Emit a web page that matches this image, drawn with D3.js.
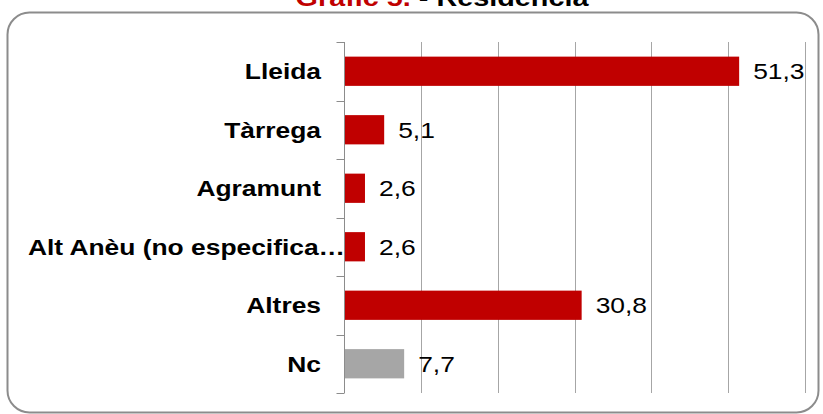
<!DOCTYPE html>
<html lang="ca">
<head>
    <meta charset="UTF-8">
    <title>Gràfic 5. - Residència</title>
    <script src="https://d3js.org/d3.v7.min.js"></script>
    <style>
        body { margin: 0; background: #fff; }
        svg { display: block; font-family: "Liberation Sans", Arial, sans-serif; }
        .grid line { stroke: #a6a6a6; stroke-width: 1; }
        .cat text { font-size: 22px; font-weight: bold; fill: #000; }
        .val { font-size: 22px; fill: #000; }
    </style>
</head>
<body>
<svg></svg>
<script>
    // dades
    const categories = ["Lleida", "Tàrrega", "Agramunt", "Alt Anèu (no especifica…", "Altres", "Nc"];
    const values = [51.3, 5.1, 2.6, 2.6, 30.8, 7.7];
    const barColors = ["#c00000", "#c00000", "#c00000", "#c00000", "#c00000", "#a6a6a6"];
    const gridTicks = [10, 20, 30, 40, 50, 60];

    const width = 823, height = 414;
    const margin = { top: 42, right: 18, bottom: 21, left: 344 };
    const stretch = 1.2; // el text de l'original surt eixamplat

    const svg = d3.select("svg")
        .attr("width", width)
        .attr("height", height);

    // marc arrodonit
    svg.append("rect")
        .attr("x", 7.5).attr("y", 12.5)
        .attr("width", 811).attr("height", 400)
        .attr("rx", 22)
        .attr("fill", "none")
        .attr("stroke", "#8c8c8c")
        .attr("stroke-width", 2);

    // títol (parcialment tallat a dalt)
    const title = svg.append("text")
        .attr("transform", `translate(442,6) scale(${stretch},1)`)
        .attr("text-anchor", "middle")
        .style("font-size", "24px")
        .style("font-weight", "bold");
    title.append("tspan").attr("fill", "#c00000").text("Gràfic 5.");
    title.append("tspan").attr("fill", "#000").text(" - Residència");

    const x = d3.scaleLinear()
        .domain([0, 60])
        .range([margin.left, width - margin.right]);

    const y = d3.scaleBand()
        .domain(categories)
        .range([margin.top, height - margin.bottom])
        .paddingInner(0.5)
        .paddingOuter(0.25);

    // línies de graella
    svg.append("g")
        .attr("class", "grid")
        .selectAll("line")
        .data(gridTicks)
        .join("line")
        .attr("x1", d => Math.round(x(d)) + 0.5)
        .attr("x2", d => Math.round(x(d)) + 0.5)
        .attr("y1", margin.top)
        .attr("y2", height - margin.bottom);

    // eix de categories amb marques als límits
    const axisX = Math.round(x(0)) + 0.5;
    const bounds = categories.map(c => y(c) - y.step() * y.paddingInner() / 2);
    bounds.push(height - margin.bottom);

    const axis = svg.append("g");
    axis.append("line")
        .attr("x1", axisX).attr("x2", axisX)
        .attr("y1", margin.top).attr("y2", height - margin.bottom)
        .attr("stroke", "#8c8c8c");
    axis.selectAll(".tk")
        .data(bounds)
        .join("line")
        .attr("class", "tk")
        .attr("x1", axisX - 8).attr("x2", axisX)
        .attr("y1", d => Math.round(d) + 0.5)
        .attr("y2", d => Math.round(d) + 0.5)
        .attr("stroke", "#8c8c8c");

    // barres
    svg.append("g")
        .selectAll("rect")
        .data(values)
        .join("rect")
        .attr("x", x(0) + 1)
        .attr("y", (d, i) => y(categories[i]))
        .attr("width", d => x(d) - x(0))
        .attr("height", y.bandwidth())
        .attr("fill", (d, i) => barColors[i]);

    // etiquetes de categoria
    svg.append("g")
        .attr("class", "cat")
        .selectAll("text")
        .data(categories)
        .join("text")
        .attr("transform", (d, i) => {
            const tx = i === 3 ? margin.left + 1 : margin.left - 23;
            return `translate(${tx},${y(d) + y.bandwidth() / 2}) scale(${stretch},1)`;
        })
        .attr("dy", "0.36em")
        .attr("text-anchor", "end")
        .text(d => d);

    // valors
    svg.append("g")
        .selectAll("text")
        .data(values)
        .join("text")
        .attr("class", "val")
        .attr("transform", (d, i) => `translate(${x(d) + 15},${y(categories[i]) + y.bandwidth() / 2}) scale(${stretch},1)`)
        .attr("dy", "0.36em")
        .text(d => d.toFixed(1).replace(".", ","));
</script>
</body>
</html>
